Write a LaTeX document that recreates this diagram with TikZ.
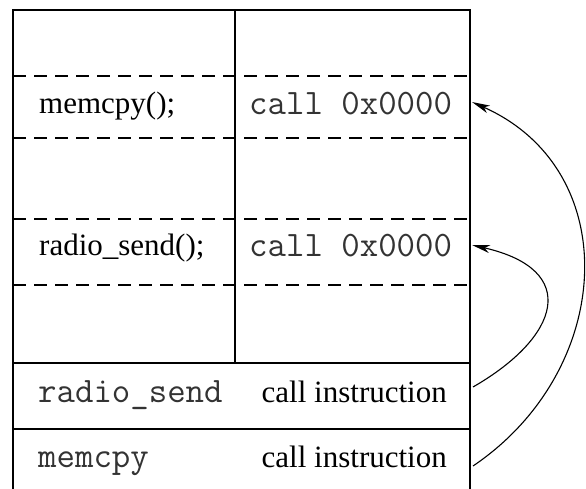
\documentclass[tikz,border=0pt]{standalone}
\usepackage{fontspec}
\setmainfont{Liberation Serif}
\usetikzlibrary{arrows.meta}
\begin{document}
\begin{tikzpicture}[x=1pt,y=-1pt,
  frame/.style={line width=1.6pt},
  sep/.style={line width=1.6pt, dash pattern=on 13pt off 8pt},
  lbl/.style={inner sep=0pt, font=\fontsize{31}{36}\selectfont},
  code/.style={inner sep=0pt, font=\fontsize{35.8}{40}\selectfont\ttfamily, text=black!80},
  link/.style={line width=1.1pt, -{Stealth[length=18pt,width=8pt,inset=5pt]}}]
\useasboundingbox (0,0) rectangle (586,488);

% memory layout: outer frame, column divider and row separators
\draw[frame] (13,500) -- (13,10) -- (470,10) -- (470,500);
\draw[frame] (235,10) -- (235,363);
\draw[sep] (13,76) -- (470,76);
\draw[sep] (13,138) -- (470,138);
\draw[sep] (13,219) -- (470,219);
\draw[sep] (13,285) -- (470,285);
\draw[frame] (13,363) -- (470,363);
\draw[frame] (13,429) -- (470,429);

% source calls and their unresolved call instructions
\node[lbl, anchor=base west] (srcmem) at (39,113) {memcpy();};
\node[code, anchor=base west] (callmem) at (249,114) {call 0x0000};
\node[lbl, anchor=base west] (srcradio) at (39,255) {radio\_send();};
\node[code, anchor=base west] (callradio) at (249,256) {call 0x0000};

% relocation entries
\node[code, anchor=base west] (relradio) at (38,402) {radio\_send};
\node[lbl, anchor=base east] (relradiokind) at (447,402) {call instruction};
\node[code, anchor=base west] (relmem) at (38,467) {memcpy};
\node[lbl, anchor=base east] (relmemkind) at (447,467) {call instruction};

% arrow endpoints on the right edge of the frame
\coordinate (fromradio) at (473,387);
\coordinate (frommem) at (473,466);
\coordinate (toradio) at (472,245);
\coordinate (tomem) at (472,102);

\draw[link] (fromradio) .. controls (560,337) and (581,270) .. (toradio);
\draw[link] (frommem) .. controls (615,370) and (625,170) .. (tomem);
\end{tikzpicture}
\end{document}
